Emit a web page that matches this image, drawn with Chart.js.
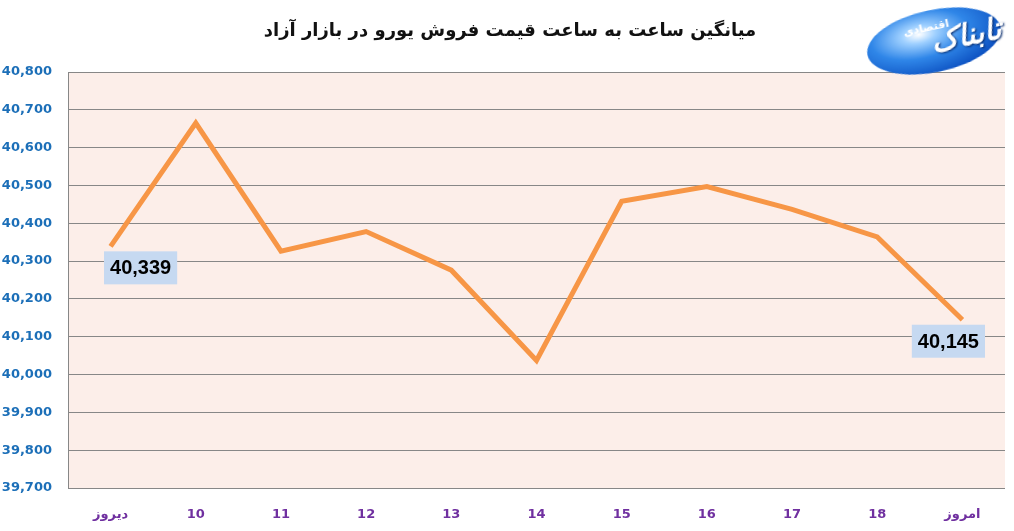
<!DOCTYPE html>
<html>
<head>
<meta charset="utf-8">
<script src="https://cdn.jsdelivr.net/npm/chart.js@4.4.1/dist/chart.umd.min.js"></script>
<style>
  html, body { margin: 0; padding: 0; background: #fff; }
  #wrap { position: relative; width: 1014px; height: 531px; overflow: hidden; }
  #title {
    position: absolute; left: 0; width: 1020px; top: 19px; text-align: center;
    font: bold 18px "DejaVu Sans", sans-serif; color: #111; direction: rtl;
  }
  #logo {
    position: absolute; left: 866px; top: 10px; width: 136px; height: 62px;
    border-radius: 50%; transform: rotate(-12deg);
    background: radial-gradient(ellipse at 40% 35%, #ffffff 0%, #9fd0ff 15%, #2f86e8 42%, #0b4fc0 78%, #0a3a94 100%);
  }
  #logo .big {
    position: absolute; left: 0; top: 14px; width: 136px; text-align: right; direction: rtl;
    font: bold 30px "DejaVu Sans", sans-serif; color: #fff; font-style: italic;
    text-shadow: 1px 1px 2px #062a6b;
  }
  #logo .small {
    position: absolute; left: 40px; top: 10px; direction: rtl;
    font: bold 11px "DejaVu Sans", sans-serif; color: #fff;
  }
  canvas { position: absolute; left: 0; top: 0; }
</style>
</head>
<body>
<div id="wrap">
  <canvas id="c" width="1014" height="531"></canvas>
  <div id="title">میانگین ساعت به ساعت قیمت فروش یورو در بازار آزاد</div>
  <div id="logo"><span class="big">تابناک</span><span class="small">اقتصادی</span></div>
</div>
<script>
const categories = ['دیروز', '10', '11', '12', '13', '14', '15', '16', '17', '18', 'امروز'];
const prices = [40339, 40665, 40326, 40378, 40276, 40037, 40458, 40497, 40437, 40364, 40145];
const yTicks = [39700, 39800, 39900, 40000, 40100, 40200, 40300, 40400, 40500, 40600, 40700, 40800];
// which points carry a value label, and where the box sits relative to the point
const labelled = [0, 10];
const labelShift = { 0: 30, 10: -14 };

const fmt = v => v.toLocaleString('en-US');

const plotBg = {
  id: 'plotBg',
  beforeDraw(chart) {
    const { ctx, chartArea: a } = chart;
    ctx.save();
    ctx.fillStyle = '#FCEEE9';
    ctx.fillRect(a.left, a.top, a.right - a.left, a.bottom - a.top);
    ctx.restore();
  }
};

const valueBoxes = {
  id: 'valueBoxes',
  afterDatasetsDraw(chart) {
    const { ctx, scales } = chart;
    ctx.save();
    ctx.font = 'bold 20px "Liberation Sans", sans-serif';
    ctx.textAlign = 'center';
    ctx.textBaseline = 'middle';
    labelled.forEach(i => {
      const x = scales.x.getPixelForValue(i) + labelShift[i];
      const y = scales.y.getPixelForValue(prices[i]);
      const txt = fmt(prices[i]);
      const w = ctx.measureText(txt).width + 12;
      const h = 33;
      ctx.fillStyle = '#C6D9F1';
      ctx.fillRect(x - w / 2, y + 5, w, h);
      ctx.fillStyle = '#000';
      ctx.fillText(txt, x, y + 5 + h / 2 + 1);
    });
    ctx.restore();
  }
};

new Chart(document.getElementById('c'), {
  type: 'line',
  data: {
    labels: categories,
    datasets: [{
      data: prices,
      borderColor: '#F79646',
      borderWidth: 5,
      pointRadius: 0,
      tension: 0,
      fill: false
    }]
  },
  options: {
    responsive: false,
    animation: false,
    layout: { padding: { left: 0, right: 9, top: 72, bottom: 0 } },
    plugins: { legend: { display: false }, tooltip: { enabled: false } },
    scales: {
      x: {
        offset: true,
        grid: { display: false },
        border: { display: false },
        ticks: {
          color: '#7030A0', padding: 11, maxRotation: 0, autoSkip: false,
          font: { family: 'DejaVu Sans', weight: 'bold', size: 13 }
        },
        afterFit(s) { s.height = 43; }
      },
      y: {
        min: 39700, max: 40800,
        afterBuildTicks(s) { s.ticks = yTicks.map(v => ({ value: v })); },
        grid: { color: '#878787', lineWidth: 1, drawTicks: false },
        border: { display: true, color: '#878787', width: 1 },
        ticks: {
          color: '#1C6FB8', padding: 16,
          font: { family: 'DejaVu Sans', weight: 'bold', size: 13 },
          callback: v => fmt(v)
        },
        afterFit(s) { s.width = 68; }
      }
    }
  },
  plugins: [plotBg, valueBoxes]
});
</script>
</body>
</html>
